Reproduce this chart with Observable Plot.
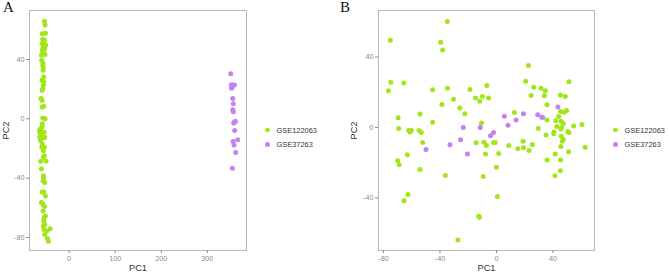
<!DOCTYPE html>
<html><head><meta charset="utf-8">
<script src="https://cdn.jsdelivr.net/npm/d3@7"></script>
<script src="https://cdn.jsdelivr.net/npm/@observablehq/plot@0.6"></script>
<style>
body{margin:0;background:#fff;}
#wrap{position:relative;width:669px;height:273px;overflow:hidden;font-family:"Liberation Sans",Arial,sans-serif;}
.panel{position:absolute;top:0;}
.tag{position:absolute;top:-1px;font-family:"Liberation Serif",serif;font-size:15px;color:#111;line-height:16px;}
.legend{position:absolute;font-size:7.4px;color:#333;}
.item{display:flex;align-items:center;height:14.3px;}
.sw{width:4.6px;height:4.6px;border-radius:50%;margin-right:7px;flex:none;}
g[aria-label="x-axis label"] text, g[aria-label="y-axis label"] text{font-size:9.3px;fill:#333;}
</style></head><body><div id="wrap"></div>
<script>
const groups = ["GSE122063", "GSE37263"];
const colors = ["#a0e619", "#c680f2"];
const panelTags = ["A", "B"];
const xTicksA = [0, 100, 200, 300];
const yTicksA = [-80, -40, 0, 40];
const xTicksB = [-80, -40, 0, 40];
const yTicksB = [-40, 0, 40];

// Panel A
const aG_PC1 = [-53.6,-52.2,-58.0,-57.2,-55.8,-58.7,-54.3,-56.5,-52.9,-58.0,-57.2,-60.1,-52.2,-56.5,-57.2,-55.8,-56.5,-58.7,-55.1,-55.8,-57.2,-58.7,-60.9,-58.7,-55.1,-57.2,-52.2,-58.0,-61.6,-64.5,-63.0,-60.1,-57.2,-52.9,-58.7,-55.8,-53.6,-61.6,-50.0,-60.1,-55.8,-55.1,-56.5,-52.9,-58.7,-55.1,-60.1,-57.2,-53.6,-51.4,-54.3,-55.1,-52.9,-54.3,-41.3,-48.6,-47.1,-44.9,-62.3,-63.8,-59.4,-53.6,-55.8,-58.7,-59.4,-55.1,-51.4,-53.6,-50.7,-55.1,-58.7,-54.3,-51.4,-56.5,-52.9,-55.8];
const aG_PC2 = [65.8,63.3,57.4,53.6,52.0,50.8,49.3,48.1,47.5,46.3,44.1,42.9,43.4,37.3,35.9,34.4,32.8,26.0,24.9,22.6,20.3,19.2,13.6,12.4,8.4,0.5,0,-3.4,-6.8,-7.9,-9.7,-11.3,-12.9,-12.4,-16.9,-21.5,-24.9,-28.7,-28.7,-33.9,-38.4,-39.5,-41.8,-42.9,-49.3,-49.3,-56.5,-57.6,-59.2,-65.5,-66.7,-68.9,-71.2,-74.6,-74.1,-75.7,-80.7,-82.5,-14.5,-12.4,-19.2,-19.2,-26.0,7.9,39.5,28.2,57.6,53.1,49.7,45.2,-5.6,-9.0,-52.0,-62.1,-78.0,-72.3];
const aP_PC1 = [350.7,352.2,355.1,358.7,352.9,355.1,356.5,355.1,356.5,360.9,357.2,359.4,365.9,355.8,358.0,361.6,354.3,352.9,358.7];
const aP_PC2 = [30.3,23.0,22.6,22.8,20.6,13.6,10.2,6.1,4.7,-1.6,-2.9,-7.9,-14.2,-15.4,-17.6,-22.8,-33.4,21.5,-2.3];

// Panel B
const bG_PC1 = [-34.8,-75.1,-39.5,-38.1,22.6,-74.8,-65.6,-76.5,20.7,51.3,-45.2,-34.6,-18.8,-6.8,26.4,31.5,34.6,-14.8,-5.6,-9.9,-11.8,-30.4,24.5,33.9,45.2,48.7,-38.6,35.8,-25.9,-22.4,12.7,49.6,48.0,45.4,-54.1,-69.6,-45.2,-10.6,44.0,35.8,41.9,45.6,47.3,60.5,54.6,42.8,46.1,29.6,-69.2,-62.1,-60.2,-54.8,-61.2,-53.2,45.6,40.7,40.5,50.4,51.3,35.1,45.9,47.3,46.6,-52.2,-14.4,-8.9,-2.1,-0.9,-7.1,8.7,18.8,25.4,45.6,19.1,15.1,23.1,51.1,62.8,1.6,-7.8,41.6,-63.1,-69.9,-68.9,35.8,45.4,-54.1,45.2,-36.2,-9.4,41.4,0,-62.6,-65.4,0.7,-12.5,-12.0,-27.3];
const bG_PC2 = [60.1,49.5,48.4,44.0,35.2,25.7,25.3,20.8,26.3,25.9,21.4,22.3,21.6,23.8,22.9,22.3,20.8,16.8,16.8,17.6,14.9,16.1,18.1,18.0,18.5,17.6,13.0,12.9,11.0,7.8,8.5,9.6,8.7,9.1,7.6,5.5,3.0,2.5,6.2,4.2,3.8,3.6,2.3,1.7,0.9,0.6,0,-0.6,-0.6,-1.7,-1.7,-1.7,-2.5,-2.8,-0.9,-2.5,-3.6,-2.3,-2.8,-4.2,-4.9,-6.8,-7.8,-8.5,-8.7,-8.3,-8.5,-8.5,-10.2,-10.2,-7.8,-9.6,-10.8,-11.5,-12.1,-13.0,-13.8,-11.2,-14.7,-15.1,-15.1,-15.5,-18.9,-21.2,-18.5,-18.5,-23.8,-24.6,-27.2,-27.8,-27.4,-22.5,-38.0,-41.6,-39.1,-50.3,-50.9,-63.9];
const bP_PC1 = [43.5,5.6,19.1,29.2,32.0,32.7,13.9,8.2,-23.5,-11.5,-2.1,-4.2,-25.4,-32.9,-49.9,-20.5];
const bP_PC2 = [11.7,6.4,7.8,7.2,6.0,5.7,4.3,1.3,0,0,-2.8,-4.7,-7.0,-9.8,-12.5,-15.1];

function rows(xs, ys, g) { return xs.map((x, i) => ({PC1: x, PC2: ys[i], group: g})); }
const dataA = [...rows(aG_PC1, aG_PC2, groups[0]), ...rows(aP_PC1, aP_PC2, groups[1])];
const dataB = [...rows(bG_PC1, bG_PC2, groups[0]), ...rows(bP_PC1, bP_PC2, groups[1])];

const wrap = document.getElementById("wrap");

function panel(data, opts) {
  const p = Plot.plot({
    width: opts.width, height: 273,
    marginLeft: opts.marginLeft, marginRight: opts.marginRight, marginTop: 10, marginBottom: 23,
    x: {domain: opts.xdomain},
    y: {domain: opts.ydomain},
    color: {domain: groups, range: colors},
    style: {fontFamily: '"Liberation Sans", Arial, sans-serif', fontSize: "7.2px", background: "transparent"},
    marks: [
      Plot.frame({stroke: "#b8b8b8", strokeWidth: 1}),
      Plot.axisX({ticks: opts.xticks, tickFormat: d => String(d), tickSize: 3, tickPadding: 2, color: "#8a8a8a",
        label: "PC1", labelAnchor: "center", labelOffset: 20, labelArrow: false}),
      Plot.axisY({ticks: opts.yticks, tickFormat: d => String(d), tickSize: 3, tickPadding: 2, color: "#8a8a8a",
        label: "PC2", labelAnchor: "center", labelOffset: opts.yLabelOffset, labelArrow: false}),
      Plot.dot(data, {x: "PC1", y: "PC2", fill: "group", r: 2.5, stroke: null})
    ]
  });
  p.classList.add("panel");
  p.style.left = opts.left + "px";
  wrap.appendChild(p);

  const tag = document.createElement("div");
  tag.className = "tag";
  tag.textContent = opts.tag;
  tag.style.left = opts.tagLeft + "px";
  wrap.appendChild(tag);

  const lg = document.createElement("div");
  lg.className = "legend";
  lg.style.left = opts.legendLeft + "px";
  lg.style.top = "123px";
  groups.forEach((g, i) => {
    const it = document.createElement("div");
    it.className = "item";
    const sw = document.createElement("span");
    sw.className = "sw";
    sw.style.background = colors[i];
    const tx = document.createElement("span");
    tx.textContent = g;
    it.appendChild(sw); it.appendChild(tx);
    lg.appendChild(it);
  });
  wrap.appendChild(lg);
}

panel(dataA, {left: 0, width: 250, marginLeft: 29, marginRight: 4, xdomain: [-86, 385], ydomain: [-88.8, 73],
  xticks: xTicksA, yticks: yTicksA, yLabelOffset: 27, tag: panelTags[0], tagLeft: 3, legendLeft: 265});
panel(dataB, {left: 330, width: 268, marginLeft: 48, marginRight: 4, xdomain: [-83.5, 69.4], ydomain: [-69.8, 66.4],
  xticks: xTicksB, yticks: yTicksB, yLabelOffset: 28, tag: panelTags[1], tagLeft: 340, legendLeft: 613});
</script>
</body></html>
